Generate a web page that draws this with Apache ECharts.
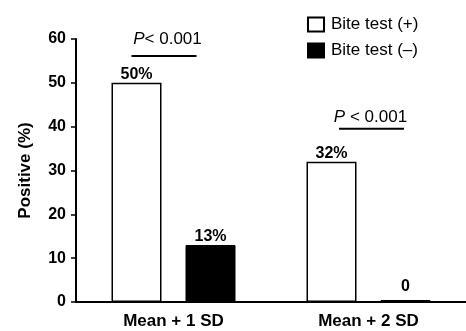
<!DOCTYPE html>
<html><head><meta charset="utf-8">
<script src="https://cdn.jsdelivr.net/npm/echarts@6/dist/echarts.min.js"></script>
<style>html,body{margin:0;padding:0;background:#fff}#c{width:466px;height:331px}</style>
</head><body><div id="c"></div>
<script>
const categories = ['Mean + 1 SD', 'Mean + 2 SD'];
const biteTestPos = [50, 32];
const biteTestNeg = [13, 0];
const posLabels = ['50%', '32%'];
const negLabels = ['13%', '0'];
const yTicks = [0, 10, 20, 30, 40, 50, 60];
const pTexts = ['< 0.001', ' < 0.001'];
const pTextLevels = [60, 42.2];
const pLineLevels = [56.1, 39.5];

const FONT = 'Liberation Sans, Arial, sans-serif';
const chart = echarts.init(document.getElementById('c'), null, {renderer: 'canvas'});
const labelStyle = {fontFamily: FONT, fontWeight: 'bold', fontSize: 16, color: '#000'};
const option = {
  animation: false,
  backgroundColor: '#fff',
  grid: {left: 76, right: -6, top: 39, bottom: 29, containLabel: false},
  legend: {
    orient: 'vertical', left: 302, top: 11, itemGap: 9,
    itemWidth: 16, itemHeight: 14, icon: 'rect',
    textStyle: {fontFamily: FONT, fontSize: 17, color: '#000', padding: [0,0,0,2]},
    data: ['Bite test (+)', 'Bite test (–)']
  },
  xAxis: {
    type: 'category', data: categories,
    axisLine: {lineStyle: {color: '#000', width: 2}},
    axisTick: {alignWithLabel: true, length: 5, lineStyle: {color: '#000', width: 1.5}},
    axisLabel: {fontFamily: FONT, fontWeight: 'bold', fontSize: 17, color: '#000', margin: 11}
  },
  yAxis: {
    type: 'value', min: yTicks[0], max: yTicks[yTicks.length-1], interval: 10,
    name: 'Positive (%)', nameLocation: 'middle', nameGap: 42,
    nameTextStyle: {fontFamily: FONT, fontWeight: 'bold', fontSize: 17, color: '#000'},
    axisLine: {show: true, lineStyle: {color: '#000', width: 2}},
    axisTick: {show: true, length: 5, lineStyle: {color: '#000', width: 1.5}},
    axisLabel: {fontFamily: FONT, fontWeight: 'bold', fontSize: 16, color: '#000', margin: 10},
    splitLine: {show: false}
  },
  series: [
    {
      name: 'Bite test (+)', type: 'bar', data: biteTestPos,
      barWidth: 50, barGap: '48%',
      itemStyle: {color: '#fff', borderColor: '#000', borderWidth: 1.5},
      label: Object.assign({show: true, position: 'top', distance: 0, formatter: p => posLabels[p.dataIndex]}, labelStyle)
    },
    {
      name: 'Bite test (–)', type: 'bar',
      data: biteTestNeg.map(v => v === 0 ? {value: v, label: {distance: 5}} : v),
      barWidth: 50, barMinHeight: 2,
      itemStyle: {color: '#000', borderColor: '#000', borderWidth: 1},
      label: Object.assign({show: true, position: 'top', distance: 0, formatter: p => negLabels[p.dataIndex]}, labelStyle)
    }
  ]
};
chart.setOption(option);

// P-value annotations positioned from the axis scales
const graphics = [];
const textDx = [-6, 2];
const lineDx = [-9.5, 3];
const lineHalf = 32.5;
categories.forEach((c, i) => {
  const center = chart.convertToPixel({xAxisIndex: 0}, c);
  const yText = chart.convertToPixel({yAxisIndex: 0}, pTextLevels[i]);
  const yLine = chart.convertToPixel({yAxisIndex: 0}, pLineLevels[i]);
  graphics.push({
    type: 'text', x: center + textDx[i], y: yText,
    style: {rich: {i: {fontStyle: 'italic', fontFamily: FONT, fontSize: 17, fill: '#000'}, n: {fontFamily: FONT, fontSize: 17, fill: '#000'}},
      text: '{i|P}{n|' + pTexts[i] + '}', align: 'center', verticalAlign: 'middle'}
  });
  graphics.push({
    type: 'line', shape: {x1: center + lineDx[i] - lineHalf, y1: yLine, x2: center + lineDx[i] + lineHalf, y2: yLine},
    style: {stroke: '#000', lineWidth: 2}
  });
});
chart.setOption({graphic: graphics});
</script></body></html>
